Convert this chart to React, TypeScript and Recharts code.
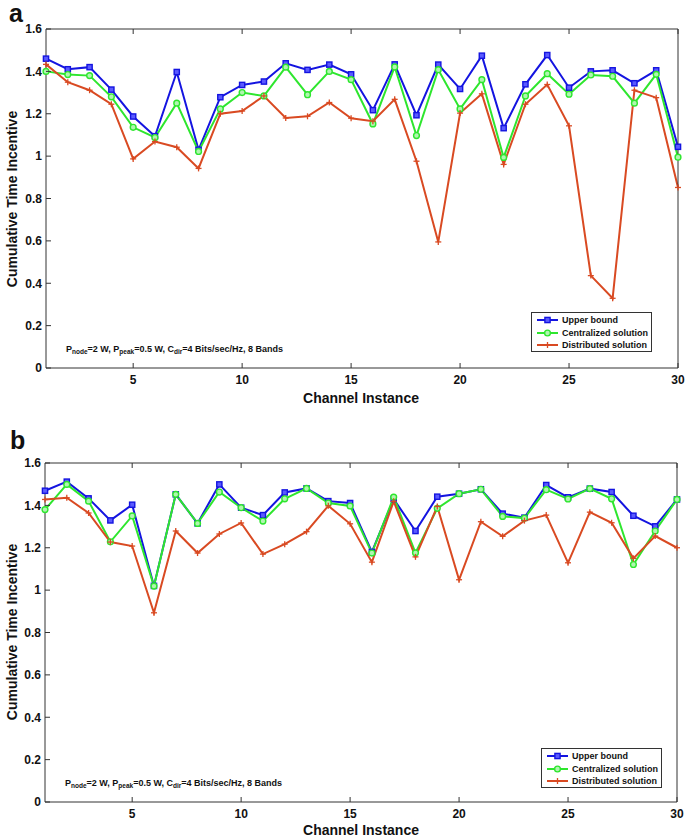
import { LineChart, Line, XAxis, YAxis, Legend } from 'recharts';

const channels = [1, 2, 3, 4, 5, 6, 7, 8, 9, 10, 11, 12, 13, 14, 15, 16, 17, 18, 19, 20, 21, 22, 23, 24, 25, 26, 27, 28, 29, 30];

// panel a
const upperA = [1.46, 1.41, 1.42, 1.314, 1.187, 1.094, 1.397, 1.03, 1.278, 1.336, 1.352, 1.438, 1.407, 1.432, 1.386, 1.217, 1.433, 1.193, 1.432, 1.317, 1.474, 1.132, 1.339, 1.477, 1.323, 1.4, 1.405, 1.344, 1.405, 1.044];
const centralA = [1.4, 1.385, 1.38, 1.28, 1.136, 1.088, 1.25, 1.022, 1.223, 1.3, 1.284, 1.42, 1.29, 1.4, 1.361, 1.152, 1.421, 1.097, 1.408, 1.223, 1.361, 0.994, 1.284, 1.389, 1.292, 1.383, 1.377, 1.25, 1.386, 0.995];
const distA = [1.433, 1.349, 1.311, 1.245, 0.987, 1.069, 1.042, 0.942, 1.2, 1.213, 1.284, 1.18, 1.188, 1.253, 1.179, 1.165, 1.268, 0.976, 0.595, 1.203, 1.294, 0.961, 1.245, 1.338, 1.143, 0.436, 0.329, 1.311, 1.276, 0.852];

// panel b
const upperB = [1.469, 1.512, 1.433, 1.329, 1.403, 1.02, 1.452, 1.315, 1.499, 1.389, 1.354, 1.461, 1.48, 1.42, 1.411, 1.18, 1.43, 1.279, 1.441, 1.455, 1.476, 1.361, 1.342, 1.496, 1.438, 1.479, 1.463, 1.351, 1.301, 1.428];
const centralB = [1.38, 1.499, 1.42, 1.228, 1.35, 1.019, 1.452, 1.315, 1.463, 1.389, 1.326, 1.431, 1.48, 1.411, 1.397, 1.175, 1.439, 1.176, 1.386, 1.455, 1.476, 1.348, 1.34, 1.474, 1.43, 1.479, 1.431, 1.121, 1.279, 1.428];
const distB = [1.428, 1.436, 1.364, 1.227, 1.208, 0.893, 1.279, 1.175, 1.265, 1.317, 1.17, 1.217, 1.276, 1.398, 1.313, 1.132, 1.419, 1.157, 1.395, 1.049, 1.323, 1.254, 1.328, 1.354, 1.129, 1.368, 1.318, 1.15, 1.255, 1.2];

const xTicks = [5, 10, 15, 20, 25, 30];
const yTicks = [0, 0.2, 0.4, 0.6, 0.8, 1, 1.2, 1.4, 1.6];

const BLUE = '#1414e0';
const GREEN = '#2ee62e';
const RED = '#d94a22';
const AXIS = '#333';
const FONT = '"Liberation Sans", Arial, Helvetica, sans-serif';

const series = [
  { key: 'upper', name: 'Upper bound', color: BLUE, marker: 'square' },
  { key: 'central', name: 'Centralized solution', color: GREEN, marker: 'circle' },
  { key: 'distributed', name: 'Distributed solution', color: RED, marker: 'plus' },
];

function Marker({ type, cx, cy, color }: any) {
  if (type === 'square') {
    return <rect x={cx - 2.6} y={cy - 2.6} width={5.2} height={5.2} fill="#5a5aff" stroke={color} strokeWidth={1.4} />;
  }
  if (type === 'circle') {
    return <circle cx={cx} cy={cy} r={2.9} fill="#b0f5b0" stroke={color} strokeWidth={1.4} />;
  }
  return (
    <g stroke={color} strokeWidth={1.3}>
      <line x1={cx - 3} x2={cx + 3} y1={cy} y2={cy} />
      <line x1={cx} x2={cx} y1={cy - 3} y2={cy + 3} />
    </g>
  );
}

const BottomTick = ({ x, y, payload }: any) => (
  <g>
    <line x1={x} x2={x} y1={y} y2={y - 5} stroke={AXIS} />
    <text x={x} y={y + 16} textAnchor="middle" fontSize={12} fontWeight="bold" fontFamily={FONT} fill="#111">
      {payload.value}
    </text>
  </g>
);
const TopTick = ({ x, y }: any) => <line x1={x} x2={x} y1={y} y2={y + 5} stroke={AXIS} />;
const LeftTick = ({ x, y, payload }: any) => (
  <g>
    <line x1={x} x2={x + 5} y1={y} y2={y} stroke={AXIS} />
    <text x={x - 4} y={y + 4.3} textAnchor="end" fontSize={12} fontWeight="bold" fontFamily={FONT} fill="#111">
      {String(payload.value)}
    </text>
  </g>
);
const RightTick = ({ x, y }: any) => <line x1={x} x2={x - 5} y1={y} y2={y} stroke={AXIS} />;

function LegendBox() {
  return (
    <div
      style={{
        boxSizing: 'border-box',
        width: 121,
        height: 40,
        border: `1px solid ${AXIS}`,
        background: '#fff',
        padding: '1px 2px 1px 4px',
        fontFamily: FONT,
        fontWeight: 'bold',
        fontSize: 9,
        color: '#111',
        lineHeight: '12px',
        whiteSpace: 'nowrap',
        textAlign: 'left',
      }}
    >
      {series.map((s) => (
        <div key={s.key} style={{ display: 'flex', alignItems: 'center', height: 12.4 }}>
          <svg width={23} height={10} style={{ marginRight: 3, flex: 'none' }}>
            <line x1={1} x2={22} y1={5} y2={5} stroke={s.color} strokeWidth={2} />
            <Marker type={s.marker} cx={11.5} cy={5} color={s.color} />
          </svg>
          <span>{s.name}</span>
        </div>
      ))}
    </div>
  );
}

function Panel({ top, upper, central, distributed, leftWidth, legendPos, height }: any) {
  const rows = channels.map((c, i) => ({
    ch: c,
    upper: upper[i],
    central: central[i],
    distributed: distributed[i],
  }));
  return (
    <div style={{ position: 'absolute', left: 0, top, width: 685, height }}>
      <LineChart width={685} height={height} data={rows} margin={{ top: 28, right: 685 - 678 - 1 + (46 - leftWidth), left: 0, bottom: 0 }}>
        <XAxis
          dataKey="ch"
          type="number"
          domain={[1, 30]}
          ticks={xTicks}
          tickSize={0}
          tickMargin={0}
          tick={<BottomTick />}
          axisLine={{ stroke: AXIS }}
          tickLine={false}
          height={height - 368}
          interval={0}
        />
        <XAxis
          xAxisId="top"
          orientation="top"
          dataKey="ch"
          type="number"
          domain={[1, 30]}
          ticks={xTicks}
          tickSize={0}
          tickMargin={0}
          tick={<TopTick />}
          axisLine={{ stroke: AXIS }}
          tickLine={false}
          height={1}
          interval={0}
        />
        <YAxis
          type="number"
          domain={[0, 1.6]}
          ticks={yTicks}
          tickSize={0}
          tickMargin={0}
          tick={<LeftTick />}
          axisLine={{ stroke: AXIS }}
          tickLine={false}
          width={leftWidth}
          interval={0}
        />
        <YAxis
          yAxisId="right"
          orientation="right"
          type="number"
          domain={[0, 1.6]}
          ticks={yTicks}
          tickSize={0}
          tickMargin={0}
          tick={<RightTick />}
          axisLine={{ stroke: AXIS }}
          tickLine={false}
          width={1}
          interval={0}
        />
        <Legend
          layout="vertical"
          align="center"
          verticalAlign="middle"
          content={() => <LegendBox />}
          wrapperStyle={{ position: 'absolute', left: legendPos[0], top: legendPos[1], width: 121, height: 40 }}
        />
        {series.map((s) => (
          <Line
            key={s.key}
            dataKey={s.key}
            name={s.name}
            stroke={s.color}
            strokeWidth={2}
            isAnimationActive={false}
            dot={(p: any) => <Marker key={`${s.key}-${p.index}`} type={s.marker} cx={p.cx} cy={p.cy} color={s.color} />}
            activeDot={false}
          />
        ))}
      </LineChart>
    </div>
  );
}

function Annotation({ x, y }: any) {
  return (
    <text x={x} y={y} fontSize={9} fontWeight="bold" fontFamily={FONT} fill="#111">
      P<tspan fontSize={6.5} dy={2}>node</tspan>
      <tspan dy={-2}>=2 W, P</tspan>
      <tspan fontSize={6.5} dy={2}>peak</tspan>
      <tspan dy={-2}>=0.5 W, C</tspan>
      <tspan fontSize={6.5} dy={2}>dir</tspan>
      <tspan dy={-2}>=4 Bits/sec/Hz, 8 Bands</tspan>
    </text>
  );
}

export default function App() {
  const titleStyle = { fontFamily: FONT, fontWeight: 'bold' as const, fill: '#111' };
  return (
    <div style={{ position: 'absolute', left: 0, top: 0, width: 685, height: 838, background: '#fff' }}>
      <Panel top={0} height={420} upper={upperA} central={centralA} distributed={distA} leftWidth={46} legendPos={[531, 312]} />
      <Panel top={434} height={404} upper={upperB} central={centralB} distributed={distB} leftWidth={45} legendPos={[541, 314]} />
      <svg width={685} height={838} style={{ position: 'absolute', left: 0, top: 0, pointerEvents: 'none' }}>
        <text x={9} y={22} fontSize={25} {...titleStyle}>a</text>
        <text x={10} y={449} fontSize={25} {...titleStyle}>b</text>
        <text x={17} y={199} fontSize={14} textAnchor="middle" transform="rotate(-90 17 199)" {...titleStyle}>
          Cumulative Time Incentive
        </text>
        <text x={17} y={632} fontSize={14} textAnchor="middle" transform="rotate(-90 17 632)" {...titleStyle}>
          Cumulative Time Incentive
        </text>
        <text x={361} y={403} fontSize={14} textAnchor="middle" {...titleStyle}>Channel Instance</text>
        <text x={361} y={835} fontSize={14} textAnchor="middle" {...titleStyle}>Channel Instance</text>
        <Annotation x={66} y={352} />
        <Annotation x={65} y={786} />
      </svg>
    </div>
  );
}
